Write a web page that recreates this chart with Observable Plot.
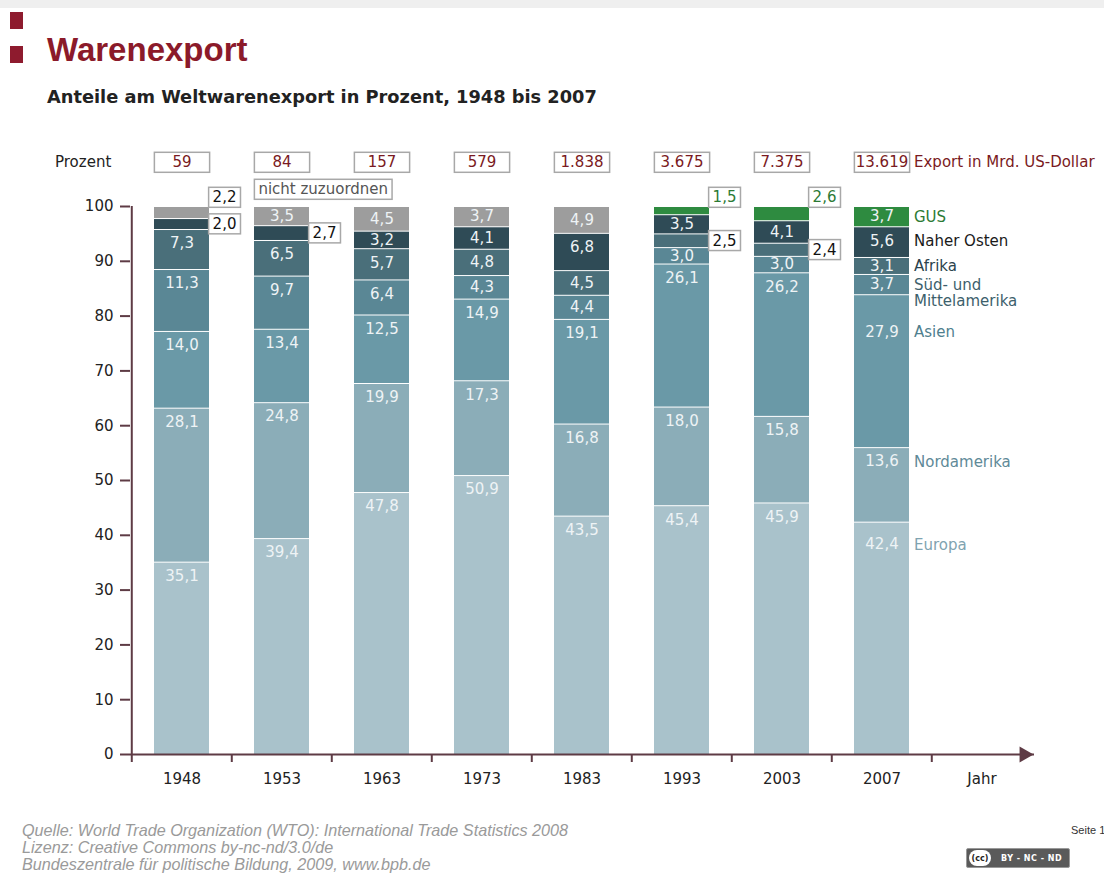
<!DOCTYPE html>
<html>
<head>
<meta charset="utf-8">
<script src="https://cdn.jsdelivr.net/npm/d3@7"></script>
<script src="https://cdn.jsdelivr.net/npm/@observablehq/plot@0.6"></script>
<style>
  html, body { margin: 0; padding: 0; }
  body { width: 1104px; height: 875px; overflow: hidden; background: #fff; position: relative; font-family: "DejaVu Sans", sans-serif; }
  .topbar { position: absolute; left: 0; top: 0; width: 1104px; height: 8px; background: #efefef; }
  .sq { position: absolute; left: 10px; width: 13px; height: 17px; background: #8e1b2e; }
  #title { position: absolute; left: 47px; top: 31px; font: bold 33px "Liberation Sans", sans-serif; color: #8b1a2a; white-space: nowrap; }
  #subtitle { position: absolute; left: 47px; top: 86px; font: bold 17.8px "DejaVu Sans", sans-serif; color: #222; white-space: nowrap; }
  #prozent { position: absolute; left: 55px; top: 153px; font: 15px "DejaVu Sans", sans-serif; color: #222; }
  #chart { position: absolute; left: 0; top: 140px; }
  #footer { position: absolute; left: 22px; top: 822px; font: italic 16.2px "Liberation Sans", sans-serif; color: #9a9a9a; line-height: 17px; white-space: nowrap; }
  #seite { position: absolute; left: 1071px; top: 824px; font: 11px "Liberation Sans", sans-serif; color: #333; white-space: nowrap; }
  #cc { position: absolute; left: 966px; top: 848px; width: 102px; height: 18px; background: #5a5a5a; border: 1px solid #999; border-radius: 2px; color: #fff; font: bold 8px "DejaVu Sans", sans-serif; display: flex; align-items: center; }
  #cc .c { width: 22px; height: 16px; margin-left: 2px; border-radius: 8px; background: #fff; color: #222; font: bold 8px "DejaVu Sans"; display: flex; align-items: center; justify-content: center; }
  #cc .t { margin-left: 10px; letter-spacing: 0.5px; }
</style>
</head>
<body>
<div class="topbar"></div>
<div class="sq" style="top:12px"></div>
<div class="sq" style="top:46px"></div>
<div id="title">Warenexport</div>
<div id="subtitle">Anteile am Weltwarenexport in Prozent, 1948 bis 2007</div>
<div id="prozent">Prozent</div>
<div id="chart"></div>
<div id="footer">Quelle: World Trade Organization (WTO): International Trade Statistics 2008<br>Lizenz: Creative Commons by-nc-nd/3.0/de<br>Bundeszentrale für politische Bildung, 2009, www.bpb.de</div>
<div id="seite">Seite 1</div>
<div id="cc"><span class="c">(cc)</span><span class="t">BY - NC - ND</span></div>
<script>
// ---- data ----
const years = ["1948", "1953", "1963", "1973", "1983", "1993", "2003", "2007"];
const axisCats = [...years, "Jahr"];
const regions = ["Europa", "Nordamerika", "Asien", "Süd- und Mittelamerika", "Afrika", "Naher Osten", "GUS", "nicht zuzuordnen"];
const europa          = [35.1, 39.4, 47.8, 50.9, 43.5, 45.4, 45.9, 42.4];
const nordamerika     = [28.1, 24.8, 19.9, 17.3, 16.8, 18.0, 15.8, 13.6];
const asien           = [14.0, 13.4, 12.5, 14.9, 19.1, 26.1, 26.2, 27.9];
const suedMittel      = [11.3,  9.7,  6.4,  4.3,  4.4,  3.0,  3.0,  3.7];
const afrika          = [ 7.3,  6.5,  5.7,  4.8,  4.5,  2.5,  2.4,  3.1];
const naherOsten      = [ 2.0,  2.7,  3.2,  4.1,  6.8,  3.5,  4.1,  5.6];
const gus             = [ 0,    0,    0,    0,    0,    1.5,  2.6,  3.7];
const nichtZuzuordnen = [ 2.2,  3.5,  4.5,  3.7,  4.9,  0,    0,    0  ];
const exportMrd = ["59", "84", "157", "579", "1.838", "3.675", "7.375", "13.619"];
const yTicks = [0, 10, 20, 30, 40, 50, 60, 70, 80, 90, 100];
const legendNames = ["Europa", "Nordamerika", "Asien", "Süd- und\nMittelamerika", "Afrika", "Naher Osten", "GUS"];

// ---- styles ----
const fillColors = ["#a9c2cb", "#8badb8", "#6a99a7", "#5a8795", "#4a6f7a", "#2f4b56", "#2e8b40", "#9d9d9d"];
const legendColors = ["#7fa3b0", "#5f8a98", "#4f7f8e", "#3d5f6c", "#2b434d", "#1a1a1a", "#2c7a35"];
const maroon = "#5e3b45";
const W = 1104, H = 660, mL = 130, mR = 70, mT = 66, mB = 46;
const pInner = 0.45;
const step = (W - mL - mR) / axisCats.length;
const barW = step * (1 - pInner);
const ppu = (H - mT - mB) / 100;
const labelInsetPx = 14;
const labelInset2007 = {"Europa": 22, "Asien": 37};

const series = [europa, nordamerika, asien, suedMittel, afrika, naherOsten, gus, nichtZuzuordnen];
const table = [];
regions.forEach((r, ri) => years.forEach((y, yi) => {
  if (series[ri][yi] > 0) table.push({year: y, region: r, value: series[ri][yi]});
}));
const segs = [];
years.forEach((y, yi) => {
  let c = 0;
  regions.forEach((r, ri) => {
    const v = series[ri][yi];
    if (v > 0) { segs.push({year: y, region: r, ri, value: v, lo: c, hi: c + v}); c += v; }
  });
});
const fmt = v => v.toFixed(1).replace(".", ",");
const labelY = s => {
  if (s.value < 5.5) return (s.lo + s.hi) / 2;
  const inset = (s.year === "2007" && labelInset2007[s.region]) || labelInsetPx;
  return s.hi - inset / ppu;
};
const inside = segs.filter(s => s.value >= 2.95);
const outsideMid = segs.filter(s => s.value < 2.95 && s.hi < 99.95);
const outsideTop = segs.filter(s => s.value < 2.95 && s.hi >= 99.95);
const legend = legendNames.map((n, i) => {
  const s = segs.find(d => d.year === "2007" && d.ri === i);
  return {name: n, y: labelY(s), color: legendColors[i]};
});
const headers = years.map((y, i) => ({year: y, text: exportMrd[i]}));
const gusColor = "#2c7a35";

const chart = Plot.plot({
  width: W, height: H,
  marginLeft: mL, marginRight: mR, marginTop: mT, marginBottom: mB,
  style: {fontFamily: "DejaVu Sans, sans-serif", fontSize: "15px", background: "transparent", overflow: "visible", color: "#222"},
  x: {type: "band", domain: axisCats, paddingInner: pInner, paddingOuter: pInner / 2, axis: null},
  y: {domain: [0, 100], axis: null},
  color: {domain: regions, range: fillColors},
  marks: [
    Plot.ruleY(yTicks.slice(1), {x2: () => "Jahr", stroke: "#d4d4d4", strokeWidth: 2}),
    Plot.barY(table, {x: "year", y: "value", fill: "region", insetTop: 1}),
    Plot.text(inside, {x: "year", y: labelY, text: d => fmt(d.value), fill: "#eef3f5", fontSize: 15}),
    Plot.text(outsideMid, {x: "year", y: d => (d.lo + d.hi) / 2, text: d => fmt(d.value), dx: barW / 2 + 3, textAnchor: "start",
      fill: d => d.region === "GUS" ? gusColor : "#111", fontSize: 15, ariaLabel: "boxed"}),
    Plot.text(outsideTop, {x: "year", y: "hi", dy: -9, text: d => fmt(d.value), dx: barW / 2 + 3, textAnchor: "start",
      fill: d => d.region === "GUS" ? gusColor : "#111", fontSize: 15, ariaLabel: "boxed"}),
    Plot.text(["nicht zuzuordnen"], {x: () => "1953", y: () => 100, dy: -17, dx: -barW / 2 + 4, text: d => d, textAnchor: "start",
      fill: "#555", fontSize: 15, ariaLabel: "boxed"}),
    Plot.text(headers, {x: "year", y: () => 100, dy: -44, text: "text", fill: "#7a1a22", fontSize: 15, ariaLabel: "hdr"}),
    Plot.text(["Export in Mrd. US-Dollar"], {x: () => "2007", y: () => 100, dy: -44, dx: 32, text: d => d, textAnchor: "start", fill: "#7a1a22", fontSize: 15}),
    Plot.text(legend, {x: () => "2007", y: "y", text: "name", fill: "color", dx: 32, dy: -6, textAnchor: "start", lineAnchor: "top", lineHeight: 1.07, fontSize: 15}),
    // y axis
    Plot.ruleX(["1948"], {x: d => d, dx: -step / 2, y1: () => 0, y2: () => 100, stroke: maroon, strokeWidth: 2}),
    Plot.axisY({ticks: yTicks, tickSize: 10, tickPadding: 7, label: null, stroke: maroon, strokeWidth: 2, fill: "#222", fontSize: 15}),
    // x axis
    Plot.ruleY([0], {stroke: maroon, strokeWidth: 2}),
    Plot.dot(["Jahr"], {x: d => d, y: () => 0, symbol: "triangle", rotate: 90, r: 6, fill: maroon, dx: step / 2 - 8}),
    Plot.axisX({ticks: axisCats, tickSize: 8, tickFormat: () => "", dx: -step / 2, label: null, stroke: maroon, strokeWidth: 2}),
    Plot.axisX({ticks: axisCats, tickSize: 0, tickPadding: 19, label: null, fill: "#222", fontSize: 15})
  ]
});
document.getElementById("chart").appendChild(chart);

// white boxes behind annotation texts
const boxedTexts = new Set([...outsideMid, ...outsideTop].map(d => fmt(d.value)).concat(["nicht zuzuordnen"]));
const hdrTexts = new Set(exportMrd);
function addBox(t, {width = null, px = 4, h = 20}) {
  const bb = t.getBBox();
  const w = width ?? bb.width + 2 * px;
  const x = width ? bb.x + bb.width / 2 - w / 2 : bb.x - px;
  const r = document.createElementNS("http://www.w3.org/2000/svg", "rect");
  r.setAttribute("x", x);
  r.setAttribute("y", bb.y + bb.height / 2 - h / 2);
  r.setAttribute("width", w);
  r.setAttribute("height", h);
  r.setAttribute("fill", "#fff");
  r.setAttribute("stroke", "#a8a8a8");
  r.setAttribute("stroke-width", 1.5);
  if (t.getAttribute("transform")) r.setAttribute("transform", t.getAttribute("transform"));
  t.parentNode.insertBefore(r, t);
}
chart.querySelectorAll("text").forEach(t => {
  const s = t.textContent;
  if (boxedTexts.has(s)) addBox(t, {px: 4, h: 20});
  else if (hdrTexts.has(s)) addBox(t, {width: barW, h: 20});
});
</script>
</body>
</html>
